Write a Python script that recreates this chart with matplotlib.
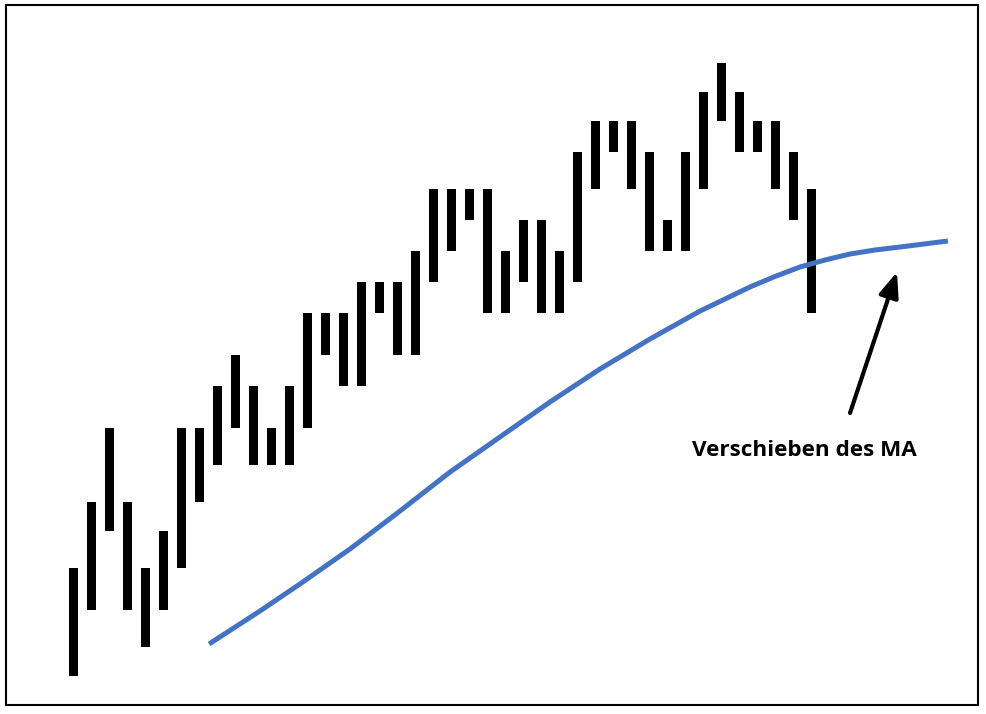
import matplotlib
matplotlib.use("Agg")
import matplotlib.pyplot as plt
from matplotlib.patches import Rectangle, FancyArrowPatch

# Bar data (index, high, low)
highs = [14.6, 21.2, 28.6, 21.2, 14.6, 18.3, 28.6, 28.6, 32.8, 35.9, 32.8, 28.6, 32.8, 40.1,
         40.1, 40.1, 43.2, 43.2, 43.2, 46.3, 52.5, 52.5, 52.5, 52.5, 46.3, 49.4, 49.4, 46.3,
         56.2, 59.3, 59.3, 59.3, 56.2, 49.4, 56.2, 62.2, 65.1, 62.2, 59.3, 59.3, 56.2, 52.5]
lows = [3.8, 10.4, 18.3, 10.4, 6.7, 10.4, 14.6, 21.2, 24.9, 28.6, 24.9, 24.9, 24.9, 28.6,
        35.9, 32.8, 32.8, 40.1, 35.9, 35.9, 43.2, 46.3, 49.4, 40.1, 40.1, 43.2, 40.1, 40.1,
        43.2, 52.5, 56.2, 52.5, 46.3, 46.3, 46.3, 52.5, 59.3, 56.2, 56.2, 52.5, 49.4, 40.1]
bar_x = list(range(len(highs)))

# Shifted moving average
ma_x = [7.53, 10.36, 12.58, 15.36, 18.14, 20.92, 23.69, 26.47, 29.25, 32.03, 34.81,
        37.58, 38.97, 40.36, 41.75, 43.14, 44.53, 45.92, 48.58]
ma_y = [7.0, 10.3, 13.0, 16.5, 20.3, 24.2, 27.7, 31.2, 34.5, 37.5, 40.3,
        42.7, 43.75, 44.7, 45.4, 46.0, 46.4, 46.7, 47.3]

label = "Verschieben des MA"
arrow_tail = (43.14, 30.1)
arrow_tip = (45.75, 44.2)
label_pos = (40.6, 25.8)

fig = plt.figure(figsize=(9.87, 7.14), dpi=100)
ax = fig.add_axes([0, 0, 1, 1])
ax.set_xlim(-73.5 / 18, (987 - 73.5) / 18)
ax.set_ylim(0, 71.4)
ax.axis("off")

heights = [h - l for h, l in zip(highs, lows)]
ax.bar(bar_x, heights, bottom=lows, width=0.5, color="black", linewidth=0)

ax.plot(ma_x, ma_y, color="#4472C4", linewidth=3.6, solid_capstyle="butt", solid_joinstyle="round")

arrow = FancyArrowPatch(arrow_tail, arrow_tip, arrowstyle="-|>,head_length=0.75,head_width=0.3",
                        mutation_scale=20, color="black", linewidth=3, shrinkA=0, shrinkB=0)
ax.add_patch(arrow)

ax.text(label_pos[0], label_pos[1], label, ha="center", va="baseline",
        fontsize=16.2, fontweight="bold", family=["Open Sans", "DejaVu Sans"], color="black")

frame = Rectangle((6 / 987, 1 - 705 / 714), (978 - 6) / 987, (705 - 5) / 714,
                  transform=fig.transFigure, fill=False, edgecolor="black", linewidth=1.5)
fig.patches.append(frame)

fig.savefig("out.png", dpi=100)
